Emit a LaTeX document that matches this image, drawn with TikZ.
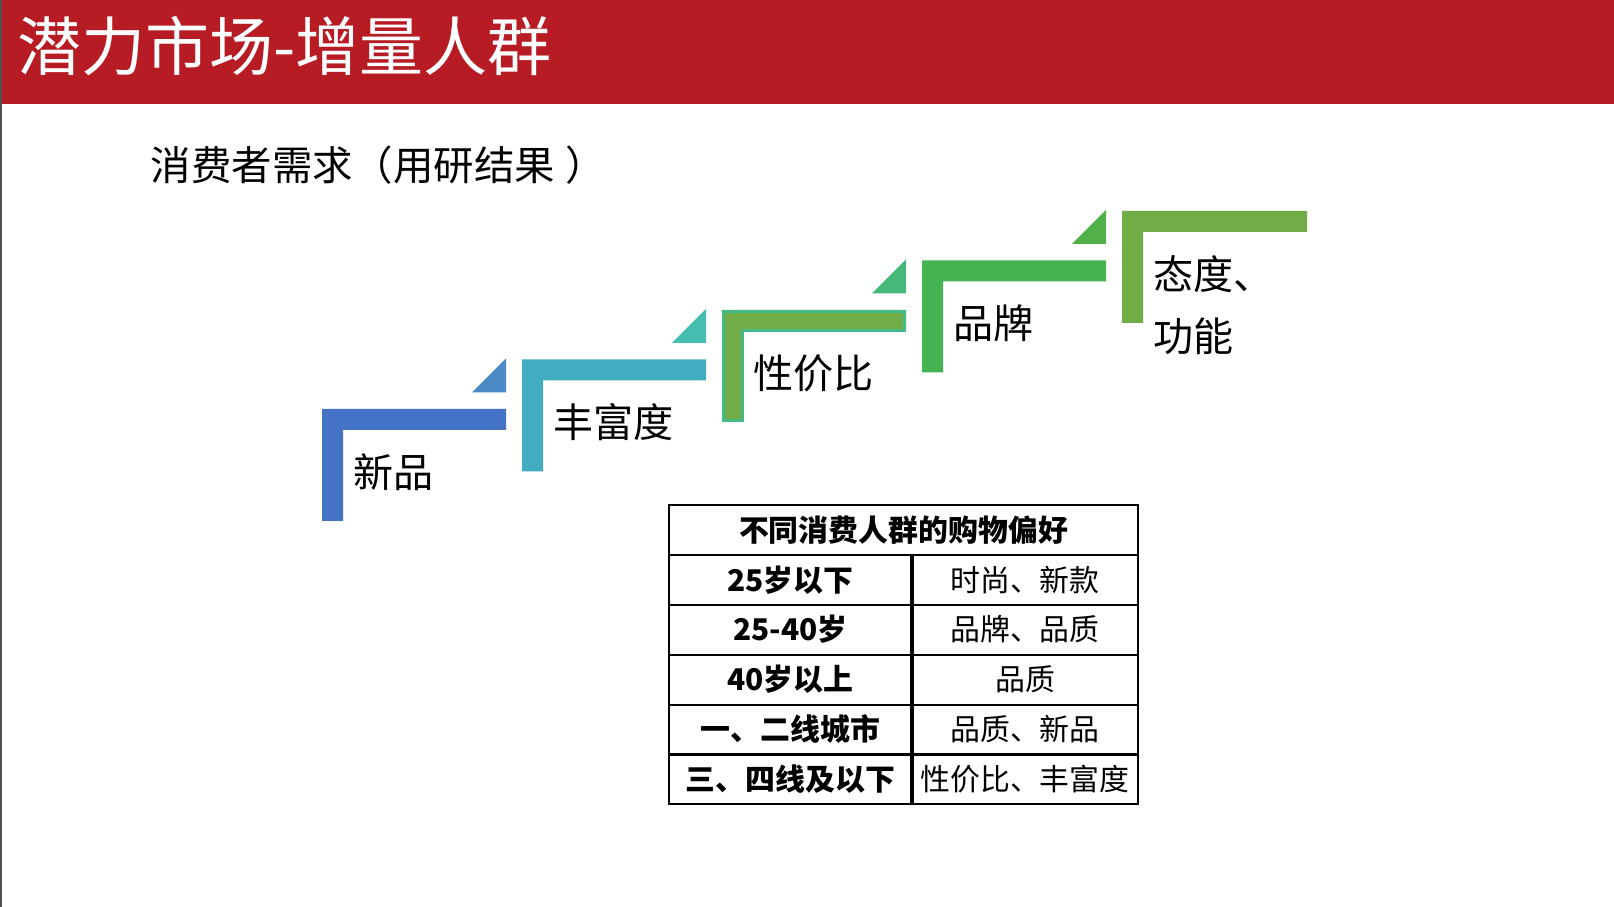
\documentclass[tikz,border=0pt]{standalone}
\usepackage{fontspec}
\setmainfont{Noto Sans CJK SC}
\usetikzlibrary{positioning}
\definecolor{topred}{RGB}{183,28,36}
\definecolor{edgegray}{RGB}{80,80,80}
\definecolor{stepA}{RGB}{68,114,196}
\definecolor{stepB}{RGB}{66,173,192}
\definecolor{stepC}{RGB}{112,173,71}
\definecolor{stepD}{RGB}{69,179,81}
\definecolor{stepE}{RGB}{112,173,71}
\definecolor{triA}{RGB}{74,136,198}
\definecolor{triB}{RGB}{69,189,177}
\definecolor{triC}{RGB}{69,184,122}
\definecolor{triD}{RGB}{82,176,74}
\definecolor{rimC}{RGB}{69,186,136}
\tikzset{
  bigfont/.style={font=\fontsize{18.2pt}{20pt}\selectfont},
  stepfont/.style={font=\fontsize{11.4pt}{17.6pt}\selectfont},
  cellfont/.style={font=\fontsize{8.5pt}{10pt}\selectfont},
  boldcell/.style={font=\fontsize{8.5pt}{10pt}\selectfont\bfseries},
  lbl/.style={anchor=west, inner sep=0pt, stepfont, align=left}
}
\begin{document}
\begin{tikzpicture}[x=0.01cm, y=-0.01cm]
\useasboundingbox (0,0) rectangle (1614,907);
\fill[white] (0,0) rectangle (1614,907);
\fill[topred] (0,0) rectangle (1614,104);
\fill[edgegray] (0,0) rectangle (2,907);
\node[anchor=west, inner sep=0pt, text=white, bigfont] (title) at (17,46) {潜力市场-增量人群};
\node[anchor=west, inner sep=0pt, font=\fontsize{11.5pt}{13pt}\selectfont] (subtitle) at (150,165) {消费者需求（用研结果\hspace{3pt}）};
% steps
\foreach \i/\c/\t/\s in {0/stepA/triA/新品, 1/stepB/triB/丰富度, 2/stepC/triC/性价比, 3/stepD/triD/品牌}{
  \begin{scope}[shift={(200*\i,-49.5*\i)}]
    \fill[\t] (472,392.5) -- (506,392.5) -- (506,358.5) -- cycle;
    \fill[\c] (322,409) -- (506,409) -- (506,430) -- (343,430) -- (343,521) -- (322,521) -- cycle;
    \node[lbl] (lbl\i) at (353,472) {\s};
  \end{scope}
}
\draw[rimC, line width=0.8pt] (723.5,311.5) -- (904.5,311.5) -- (904.5,330.5) -- (742.5,330.5) -- (742.5,420.5) -- (723.5,420.5) -- cycle;
\fill[stepE] (1122,211) -- (1307,211) -- (1307,232) -- (1143,232) -- (1143,323) -- (1122,323) -- cycle;
\node[lbl] (lbl4) at (1153,305) {态度、\\功能};
% table
\draw[line width=0.6pt] (669,505) rectangle (1138,804);
\foreach \y in {555,605,655,705,754.5} \draw[line width=0.6pt] (669,\y) -- (1138,\y);
\draw[line width=0.9pt] (912,555) -- (912,804);
\node[boldcell] (head) at (903.5,530) {不同消费人群的购物偏好};
\foreach \a/\b [count=\k] in {25岁以下/时尚、新款, 25-40岁/品牌、品质, 40岁以上/品质, 一、二线城市/品质、新品, 三、四线及以下/性价比、丰富度}{
  \node[boldcell] (left\k) at (790.5,530+49.8*\k) {\a};
  \node[cellfont] (right\k) at (1025,530+49.8*\k) {\b};
}
\end{tikzpicture}
\end{document}
